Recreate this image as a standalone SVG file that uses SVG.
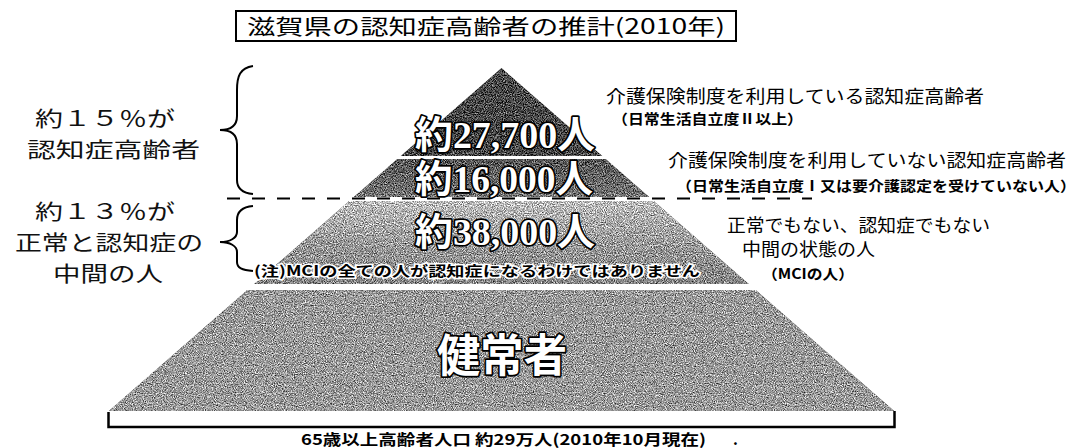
<svg xmlns="http://www.w3.org/2000/svg" width="1084" height="448" viewBox="0 0 1084 448">
<style>
.jp{font-family:"Noto Sans CJK JP","Noto Sans CJK SC",sans-serif;}
.big{font-family:"Liberation Serif","Noto Sans CJK JP",serif;font-weight:bold;fill:#fff;stroke:#000;stroke-width:3.5;paint-order:stroke;stroke-linejoin:round;}
.left{font-family:"Noto Sans CJK JP",sans-serif;font-size:21px;fill:#111;}
.rt{font-family:"Noto Sans CJK JP",sans-serif;font-size:18px;fill:#000;}
.sm{font-family:"Noto Sans CJK JP",sans-serif;font-size:14px;font-weight:bold;fill:#000;}
.brace{fill:none;stroke:#000;stroke-width:2;}
</style>
<defs>
<filter id="grain" x="0" y="0" width="1" height="1" color-interpolation-filters="sRGB">
<feTurbulence type="fractalNoise" baseFrequency="0.9" numOctaves="2" seed="7" result="n"/>
<feColorMatrix in="n" type="matrix" values="1 0 0 0 0 1 0 0 0 0 1 0 0 0 0 0 0 0 0 1" result="g"/>
<feComposite in="SourceGraphic" in2="g" operator="arithmetic" k1="0" k2="1" k3="1.4" k4="-0.7" result="m"/>
<feComposite in="m" in2="SourceGraphic" operator="in"/>
</filter>
<linearGradient id="g3" x1="0" y1="0" x2="0" y2="1">
<stop offset="0" stop-color="#bdbdbd"/>
<stop offset="0.5" stop-color="#9a9a9a"/>
<stop offset="1" stop-color="#858585"/>
</linearGradient>
<linearGradient id="g2" x1="0" y1="0" x2="0" y2="1">
<stop offset="0" stop-color="#555"/>
<stop offset="1" stop-color="#747474"/>
</linearGradient>
</defs>
<rect width="1084" height="448" fill="#fff"/>

<g id="title">
<rect x="236" y="11" width="500" height="30" fill="#fff" stroke="#000" stroke-width="2"/>
<text class="jp" x="247" y="34" font-size="21" textLength="478" lengthAdjust="spacingAndGlyphs">滋賀県の認知症高齢者の推計(2010年)</text>
</g>

<g id="layer-dementia-care" filter="url(#grain)">
<polygon points="501.5,68 602.3,156 400.7,156" fill="#474747"/>
</g>
<g id="layer-dementia-nocare" filter="url(#grain)">
<polygon points="397.3,159 605.7,159 649.2,197 353.8,197" fill="url(#g2)"/>
</g>
<g id="layer-mci" filter="url(#grain)">
<polygon points="349.2,201 653.8,201 748.8,284 254.2,284" fill="url(#g3)"/>
</g>
<g id="layer-healthy" filter="url(#grain)">
<polygon points="247.3,290 755.7,290 894.2,411 108.8,411" fill="#999"/>
</g>

<g id="base-slab">
<rect x="108" y="411" width="787" height="16" fill="#fff"/>
<polyline points="108.5,412 108.5,427 894.5,427 894.5,411" fill="none" stroke="#000" stroke-width="2.5"/>
</g>

<g id="pyramid-labels">
<text class="big" x="415" y="148" font-size="38" textLength="180" lengthAdjust="spacingAndGlyphs">約27,700人</text>
<text class="big" x="415" y="192" font-size="38" textLength="178" lengthAdjust="spacingAndGlyphs">約16,000人</text>
<text class="big" x="415" y="245" font-size="38" textLength="180" lengthAdjust="spacingAndGlyphs">約38,000人</text>
<text class="jp" x="254" y="276" font-size="14" font-weight="bold" fill="#000" stroke="#fff" stroke-width="3" paint-order="stroke" textLength="446" lengthAdjust="spacingAndGlyphs">(注)MCIの全ての人が認知症になるわけではありません</text>
<text class="big" x="502" y="372" font-size="45" text-anchor="middle" style="font-family:'Noto Sans CJK JP',sans-serif" textLength="130" lengthAdjust="spacingAndGlyphs">健常者</text>
</g>

<g id="left-labels">
<text class="left" x="35" y="126" textLength="140" lengthAdjust="spacingAndGlyphs">約１５％が</text>
<text class="left" x="27" y="157" textLength="173" lengthAdjust="spacingAndGlyphs">認知症高齢者</text>
<text class="left" x="35" y="219" textLength="140" lengthAdjust="spacingAndGlyphs">約１３％が</text>
<text class="left" x="15" y="250" textLength="188" lengthAdjust="spacingAndGlyphs">正常と認知症の</text>
<text class="left" x="53" y="281" textLength="110" lengthAdjust="spacingAndGlyphs">中間の人</text>
</g>

<g id="right-labels">
<text class="rt" x="606" y="103" textLength="378" lengthAdjust="spacingAndGlyphs">介護保険制度を利用している認知症高齢者</text>
<text class="sm" x="612" y="124" textLength="191" lengthAdjust="spacingAndGlyphs">（日常生活自立度Ⅱ以上）</text>
<text class="rt" x="668" y="167" textLength="398" lengthAdjust="spacingAndGlyphs">介護保険制度を利用していない認知症高齢者</text>
<text class="sm" x="676" y="191" textLength="400" lengthAdjust="spacingAndGlyphs">（日常生活自立度Ⅰ又は要介護認定を受けていない人）</text>
<text class="rt" x="727" y="232" textLength="263" lengthAdjust="spacingAndGlyphs">正常でもない、認知症でもない</text>
<text class="rt" x="742" y="256" textLength="133" lengthAdjust="spacingAndGlyphs">中間の状態の人</text>
<text class="sm" x="762" y="279" textLength="92" lengthAdjust="spacingAndGlyphs">（MCIの人）</text>
</g>

<g id="footer">
<text class="jp" x="301" y="445" font-size="15" font-weight="bold" textLength="405" lengthAdjust="spacingAndGlyphs">65歳以上高齢者人口 約29万人(2010年10月現在)</text>
<text class="jp" x="733" y="445" font-size="15" font-weight="bold">.</text>
</g>

<g id="connectors">
<path class="brace" d="M253,66 C240,68 237,76 237,90 L237,116 C237,126 230,130 220,130 C230,130 237,134 237,144 L237,180 C237,188 242,193 253,194"/>
<path class="brace" d="M253,206 C242,207 237,212 237,220 L237,232 C237,238 230,242 220,242 C230,242 237,246 237,252 L237,262 C237,268 242,270 253,271"/>
<line x1="227" y1="198.5" x2="812" y2="198.5" stroke="#000" stroke-width="2.2" stroke-dasharray="13 12"/>
</g>
</svg>
